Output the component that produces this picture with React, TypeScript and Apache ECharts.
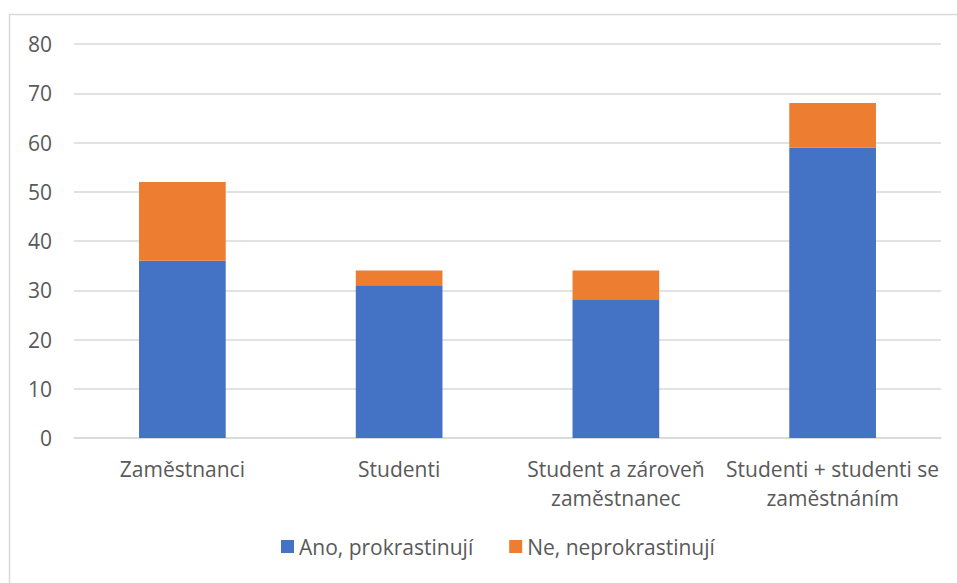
import React, { useEffect, useRef } from "react";
import * as echarts from "echarts";

const categories = [
  "Zaměstnanci",
  "Studenti",
  "Student a zároveň\nzaměstnanec",
  "Studenti + studenti se\nzaměstnáním",
];
const seriesNames = ["Ano, prokrastinují", "Ne, neprokrastinují"];
const anoValues = [36, 31, 28, 59];
const neValues = [16, 3, 6, 9];
const yTicks = { min: 0, max: 80, interval: 10 };

const FONT = "'Open Sans', 'Noto Sans', sans-serif";
const TEXT = "#595959";
const FS = 21;

export default function App() {
  const ref = useRef<HTMLDivElement>(null);
  useEffect(() => {
    if (!ref.current) return;
    const chart = echarts.init(ref.current, undefined, { renderer: "svg" });
    chart.setOption({
      animation: false,
      backgroundColor: "#ffffff",
      textStyle: { fontFamily: FONT },
      graphic: [
        {
          type: "rect",
          shape: { x: 9.5, y: 14.5, width: 970, height: 600 },
          style: { fill: "none", stroke: "#d9d9d9", lineWidth: 1.5 },
          silent: true,
        },
      ],
      grid: { left: 74, right: 16, top: 44, bottom: 145, containLabel: false },
      legend: {
        bottom: 21,
        left: 276,
        icon: "rect",
        itemWidth: 13,
        itemHeight: 13,
        itemGap: 36,
        textStyle: { color: TEXT, fontSize: FS, fontFamily: FONT },
        data: seriesNames,
      },
      xAxis: {
        type: "category",
        data: categories,
        axisLine: { lineStyle: { color: "#d9d9d9", width: 1.5 } },
        axisTick: { show: false },
        axisLabel: {
          color: TEXT,
          fontSize: FS,
          fontFamily: FONT,
          margin: 16,
          lineHeight: 29,
          interval: 0,
        },
      },
      yAxis: {
        type: "value",
        min: yTicks.min,
        max: yTicks.max,
        interval: yTicks.interval,
        axisLine: { show: false },
        axisTick: { show: false },
        splitLine: { lineStyle: { color: "#d9d9d9", width: 1.5 } },
        axisLabel: {
          color: TEXT,
          fontSize: FS,
          fontFamily: FONT,
          margin: 22,
        },
      },
      series: [
        {
          name: seriesNames[0],
          type: "bar",
          stack: "total",
          data: anoValues,
          barWidth: "40%",
          itemStyle: { color: "#4472C4" },
        },
        {
          name: seriesNames[1],
          type: "bar",
          stack: "total",
          data: neValues,
          barWidth: "40%",
          itemStyle: { color: "#ED7D31" },
        },
      ],
    });
    return () => chart.dispose();
  }, []);
  return (
    <div
      ref={ref}
      style={{ position: "fixed", left: 0, top: 0, width: 957, height: 583 }}
    />
  );
}
